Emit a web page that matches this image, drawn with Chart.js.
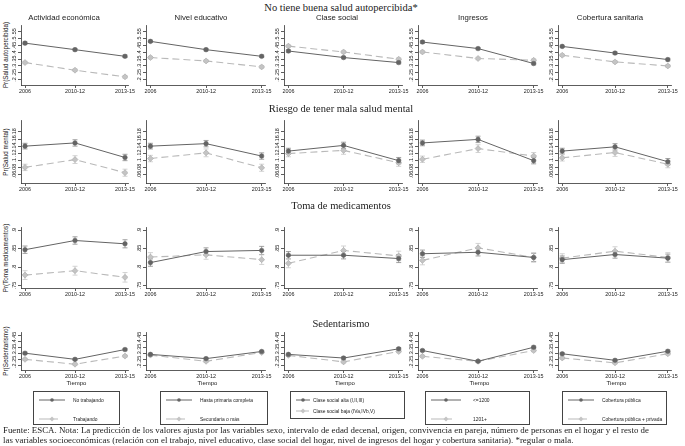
<!DOCTYPE html>
<html><head><meta charset="utf-8">
<script src="https://cdn.jsdelivr.net/npm/chart.js@4.4.0/dist/chart.umd.min.js"></script>
<style>
body{margin:0;background:#fff;width:685px;height:446px;position:relative;overflow:hidden;font-family:"Liberation Sans",Arial,sans-serif;color:#222;}
.abs{position:absolute;white-space:nowrap;}
.rowt{font-family:"Liberation Serif","Times New Roman",serif;font-size:10.5px;transform:translate(-50%,-50%);}
.colt{font-size:7.8px;transform:translate(-50%,-50%);}
.ytit{font-size:6.3px;transform:translate(-50%,-50%) rotate(-90deg);}
.xtit{font-size:6px;transform:translate(-50%,-50%);}
.leg{border:0.8px solid #444;box-sizing:border-box;font-size:4.9px;}
.leg .it{position:absolute;display:flex;align-items:center;}
.leg svg{display:block;margin-right:6px;}
.foot{font-family:"Liberation Serif","Times New Roman",serif;font-size:8.9px;left:3px;line-height:10.4px;}
</style></head><body>
<script>
// ---------- data ----------
const periods = ['2006', '2010-12', '2013-15'];
const panelTitles = ['Actividad económica', 'Nivel educativo', 'Clase social', 'Ingresos', 'Cobertura sanitaria'];
const rowTitles = ['No tiene buena salud autopercibida*', 'Riesgo de tener mala salud mental', 'Toma de medicamentos', 'Sedentarismo'];
const yTitles = ['Pr(Salud autopercibida)', 'Pr(Salud mental)', 'Pr(Toma medicamentos)', 'Pr(Sedentarismo)'];
const legendA = ['No trabajando', 'Hasta primaria completa', 'Clase social alta (I,II,III)', '<=1200', 'Cobertura pública'];
const legendB = ['Trabajando', 'Secundaria o más', 'Clase social baja (IVa,IVb,V)', '1201+', 'Cobertura pública + privada'];

const ticksSalud  = [.2, .25, .3, .35, .4, .45, .5, .55];
const ticksMental = [.06, .08, .1, .12, .14, .16, .18];
const ticksMedic  = [.75, .8, .85, .9];
const ticksSedent = [.2, .25, .3, .35, .4, .45];

// series A (solid, dark) and B (dashed, light), one triple per column
const saludA  = [[.468,.420,.371],[.481,.420,.371],[.410,.362,.325],[.476,.428,.318],[.444,.395,.347]];
const saludB  = [[.325,.269,.220],[.362,.337,.293],[.446,.403,.350],[.403,.355,.342],[.379,.330,.300]];
const mentalA = [[.140,.149,.108],[.140,.147,.112],[.126,.142,.099],[.149,.159,.099],[.126,.138,.096]];
const mentalB = [[.080,.102,.065],[.105,.121,.079],[.119,.128,.093],[.103,.133,.112],[.107,.122,.089]];
const medicA  = [[.847,.872,.863],[.812,.842,.845],[.832,.832,.823],[.836,.840,.826],[.820,.834,.824]];
const medicB  = [[.778,.790,.772],[.827,.833,.820],[.810,.845,.830],[.818,.852,.826],[.824,.843,.826]];
const sedentA = [[.303,.252,.333],[.293,.258,.317],[.293,.263,.339],[.325,.236,.352],[.298,.244,.319]];
const sedentB = [[.252,.212,.279],[.287,.236,.309],[.285,.231,.317],[.277,.236,.325],[.263,.223,.298]];

// confidence-interval half widths (per period)
const ciSaludA  = [.008,.008,.009];
const ciSaludB  = [.009,.009,.010];
const ciMentalA = [.008,.009,.009];
const ciMentalB = [.009,.011,.010];
const ciMedicA  = [.010,.010,.011];
const ciMedicB  = [.012,.012,.013];
const ciSedentA = [.008,.008,.009];
const ciSedentB = [.009,.009,.010];

// ---------- layout ----------
const rows = [
  {A: saludA,  B: saludB,  ciA: ciSaludA,  ciB: ciSaludB,  ticks: ticksSalud,  min: .160, max: .597, top: 25,  bottom: 85},
  {A: mentalA, B: mentalB, ciA: ciMentalA, ciB: ciMentalB, ticks: ticksMental, min: .036, max: .212, top: 120, bottom: 183},
  {A: medicA,  B: medicB,  ciA: ciMedicA,  ciB: ciMedicB,  ticks: ticksMedic,  min: .743, max: .907, top: 227, bottom: 288},
  {A: sedentA, B: sedentB, ciA: ciSedentA, ciB: ciSedentB, ticks: ticksSedent, min: .164, max: .473, top: 332, bottom: 370}
];
const colLeft  = [21, 146, 284, 418, 558];
const colRight = [128, 265, 402, 537, 671];
const colTitleX = [64, 201, 337, 473, 610];
const rowTitleY = [7, 108, 205, 323];
const DARK = '#646464', LIGHT = '#b9b9b9', AXIS = '#333';

function fmt(v){ return String(v).replace(/^0/, ''); }

const errPlugin = {
  id: 'errbars',
  beforeDatasetsDraw(chart){
    const {ctx} = chart, x = chart.scales.x, y = chart.scales.y;
    chart.data.datasets.forEach(ds => {
      ctx.save();
      ctx.strokeStyle = ds.errColor; ctx.lineWidth = 0.8;
      ds.data.forEach((p, i) => {
        const px = x.getPixelForValue(p.x);
        const y1 = y.getPixelForValue(p.y - ds.ci[i]);
        const y2 = y.getPixelForValue(p.y + ds.ci[i]);
        ctx.beginPath();
        ctx.moveTo(px, y1); ctx.lineTo(px, y2);
        ctx.moveTo(px - 2.5, y1); ctx.lineTo(px + 2.5, y1);
        ctx.moveTo(px - 2.5, y2); ctx.lineTo(px + 2.5, y2);
        ctx.stroke();
      });
      ctx.restore();
    });
  }
};
const yLabelPlugin = {
  id: 'ylabels',
  afterDraw(chart){
    const {ctx} = chart, y = chart.scales.y;
    ctx.save();
    ctx.fillStyle = '#222';
    ctx.font = '5.4px "Liberation Sans", Arial, sans-serif';
    ctx.textAlign = 'center'; ctx.textBaseline = 'middle';
    y.ticks.forEach(t => {
      const py = y.getPixelForValue(t.value);
      ctx.save(); ctx.translate(y.right - 6.5, py); ctx.rotate(-Math.PI / 2);
      ctx.fillText(fmt(t.value), 0, 0); ctx.restore();
    });
    ctx.restore();
  }
};

function addText(cls, text, x, y){
  const d = document.createElement('div');
  d.className = 'abs ' + cls; d.textContent = text;
  d.style.left = x + 'px'; d.style.top = y + 'px';
  document.body.appendChild(d); return d;
}

function makePanel(r, c){
  const row = rows[r];
  const L = colLeft[c], R = colRight[c], T = row.top, B = row.bottom;
  const padL = 16, padT = 4, padR = 16, padB = 12;
  const W = R - L + padL + padR, H = B - T + padT + padB;
  const cv = document.createElement('canvas');
  cv.width = W; cv.height = H;
  cv.style.cssText = `position:absolute;left:${L - padL}px;top:${T - padT}px;width:${W}px;height:${H}px;`;
  document.body.appendChild(cv);
  const mk = (vals) => vals.map((v, i) => ({x: i, y: v}));
  new Chart(cv, {
    type: 'line',
    data: {datasets: [
      {data: mk(row.A[c]), ci: row.ciA, errColor: '#8a8a8a', borderColor: DARK, borderWidth: 1,
       pointStyle: 'circle', pointRadius: 2.3, pointBackgroundColor: DARK, pointBorderColor: DARK, pointBorderWidth: 0.5, tension: 0},
      {data: mk(row.B[c]), ci: row.ciB, errColor: '#c8c8c8', borderColor: LIGHT, borderWidth: 1.1, borderDash: [7, 4],
       pointStyle: 'rectRot', pointRadius: 3, pointBackgroundColor: '#c4c4c4', pointBorderColor: '#a9a9a9', pointBorderWidth: 0.6, tension: 0}
    ]},
    options: {
      responsive: false, animation: false, devicePixelRatio: window.devicePixelRatio || 1,
      layout: {padding: {left: 0, top: padT, right: padR, bottom: 0}},
      plugins: {legend: {display: false}, tooltip: {enabled: false}},
      scales: {
        x: {type: 'linear', min: -0.08, max: 2.06,
            afterBuildTicks: a => { a.ticks = [0, 1, 2].map(v => ({value: v})); },
            afterFit: a => { a.height = padB; },
            ticks: {callback: v => periods[v], font: {size: 5.4, family: '"Liberation Sans", Arial'}, color: '#222', padding: 0.5, maxRotation: 0, autoSkip: false},
            grid: {drawOnChartArea: false, tickLength: 3, color: AXIS, lineWidth: 0.8},
            border: {color: AXIS, width: 0.8}},
        y: {type: 'linear', min: row.min, max: row.max,
            afterBuildTicks: a => { a.ticks = row.ticks.map(v => ({value: v})); },
            afterFit: a => { a.width = padL; },
            ticks: {display: false},
            grid: {drawOnChartArea: false, tickLength: 3, color: AXIS, lineWidth: 0.8},
            border: {color: AXIS, width: 0.8}}
      }
    },
    plugins: [errPlugin, yLabelPlugin]
  });
}

for (let r = 0; r < 4; r++) {
  addText('rowt', rowTitles[r], 341, rowTitleY[r]);
  addText('ytit', yTitles[r], 5, (rows[r].top + rows[r].bottom) / 2);
  for (let c = 0; c < 5; c++) makePanel(r, c);
}
panelTitles.forEach((t, c) => addText('colt', t, colTitleX[c], 17));
colLeft.forEach((L, c) => addText('xtit', 'Tiempo', (L + colRight[c]) / 2 + 2, 383));

// ---------- legends ----------
const legBoxes = [
  {x: 33, w: 87, h: 34, sym: 26, gap: 8},
  {x: 160, w: 108, h: 34, sym: 26, gap: 8},
  {x: 290, w: 115, h: 28, sym: 14, gap: 3},
  {x: 425, w: 105, h: 34, sym: 30, gap: 12},
  {x: 562, w: 105, h: 34, sym: 26, gap: 8}
];
function symbol(w, dark){
  const m = w / 2;
  if (dark) return `<svg width="${w}" height="6"><line x1="0" y1="3" x2="${w}" y2="3" stroke="${DARK}" stroke-width="1"/><circle cx="${m}" cy="3" r="1.8" fill="${DARK}"/></svg>`;
  return `<svg width="${w}" height="6"><line x1="0" y1="3" x2="${w}" y2="3" stroke="${LIGHT}" stroke-width="1.1" stroke-dasharray="${m - 1} 3 4 20"/><polygon points="${m},0.5 ${m + 2.5},3 ${m},5.5 ${m - 2.5},3" fill="#c4c4c4"/></svg>`;
}
legBoxes.forEach((b, c) => {
  const d = document.createElement('div');
  d.className = 'abs leg';
  d.style.cssText = `left:${b.x}px;top:391px;width:${b.w}px;height:${b.h}px;`;
  const y1 = 5, y2 = c === 2 ? 16 : 24;
  d.innerHTML = `<div class="it" style="left:5px;top:${y1}px">${symbol(b.sym, true)}<span style="margin-left:${b.gap - 6}px">${legendA[c].replace(/</g, '&lt;')}</span></div>` +
                `<div class="it" style="left:5px;top:${y2}px">${symbol(b.sym, false)}<span style="margin-left:${b.gap - 6}px">${legendB[c]}</span></div>`;
  document.body.appendChild(d);
});

// ---------- footnote ----------
const foot = document.createElement('div');
foot.className = 'abs foot';
foot.style.top = '425px';
foot.innerHTML = 'Fuente: ESCA. Nota: La predicción de los valores ajusta por las variables sexo, intervalo de edad decenal, origen, convivencia en pareja, número de personas en el hogar y el resto de<br>las variables socioeconómicas (relación con el trabajo, nivel educativo, clase social del hogar, nivel de ingresos del hogar y cobertura sanitaria). *regular o mala.';
document.body.appendChild(foot);
</script>
</body></html>
